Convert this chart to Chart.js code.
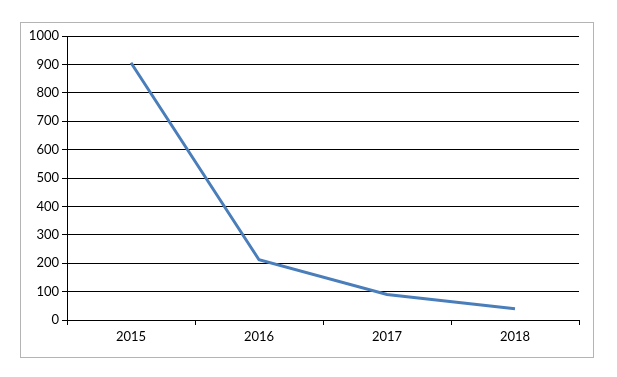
<!DOCTYPE html>
<html>
<head>
<meta charset="utf-8">
<script src="https://cdn.jsdelivr.net/npm/chart.js@4/dist/chart.umd.min.js"></script>
<style>
  html, body { margin: 0; padding: 0; background: #fff; }
  #wrap { width: 617px; height: 377px; position: relative; }
</style>
</head>
<body>
<div id="wrap"><canvas id="chart" width="617" height="377"></canvas></div>
<script>
const years = ["2015", "2016", "2017", "2018"];
const values = [906, 212, 90, 40];
const yTicks = [0, 100, 200, 300, 400, 500, 600, 700, 800, 900, 1000];

// outer frame like the spreadsheet chart border
const frame = {
  id: "frame",
  beforeDraw(chart) {
    const c = chart.ctx;
    c.save();
    c.fillStyle = "#fff";
    c.fillRect(0, 0, chart.width, chart.height);
    c.strokeStyle = "#b4b4b4";
    c.lineWidth = 1;
    c.strokeRect(20.5, 22.5, 573, 335);
    c.restore();
  }
};

const ctx = document.getElementById("chart").getContext("2d");
new Chart(ctx, {
  type: "line",
  data: {
    labels: years,
    datasets: [{
      data: values,
      borderColor: "#4a7ebb",
      borderWidth: 3,
      pointRadius: 0,
      tension: 0,
      fill: false
    }]
  },
  options: {
    responsive: false,
    animation: false,
    layout: { padding: { left: 0, top: 36, right: 38, bottom: 0 } },
    plugins: { legend: { display: false }, tooltip: { enabled: false } },
    scales: {
      x: {
        offset: true,
        grid: { offset: true, drawOnChartArea: false, color: "#000", tickLength: 5 },
        border: { color: "#000", width: 1 },
        ticks: { color: "#000", padding: 4, font: { family: "Lato", size: 13 }, maxRotation: 0 },
        afterFit(s) { s.height = 57; }
      },
      y: {
        min: 0,
        max: 1000,
        afterBuildTicks(s) { s.ticks = yTicks.map(v => ({ value: v })); },
        grid: { color: "#000", tickLength: 5 },
        border: { color: "#000", width: 1 },
        ticks: { color: "#000", padding: 3, font: { family: "Lato", size: 13 }, callback: v => String(v) },
        afterFit(s) { s.width = 67; }
      }
    }
  },
  plugins: [frame]
});
</script>
</body>
</html>
